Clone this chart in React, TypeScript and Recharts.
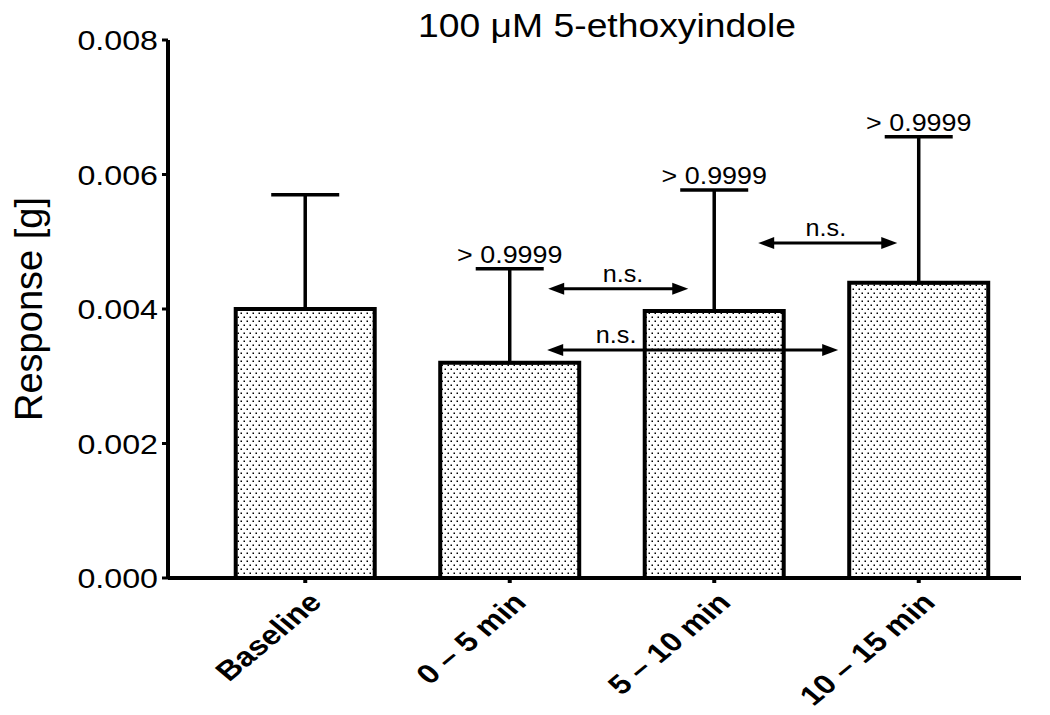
import React from "react";
import { BarChart, Bar, XAxis, YAxis, ErrorBar, ReferenceLine, ReferenceDot } from "recharts";

const categories = ["Baseline", "0 \u2013 5 min", "5 \u2013 10 min", "10 \u2013 15 min"];
const means = [0.004, 0.0032, 0.00397, 0.00439];
const sdUp = [0.0017, 0.0014, 0.0018, 0.00217];
const pLabels = ["", "> 0.9999", "> 0.9999", "> 0.9999"];
const yTicks = [0, 0.002, 0.004, 0.006, 0.008];

// n.s. comparison arrows, x in category units (0 = Baseline centre)
const arrowFrom = [1.188, 1.183, 2.215];
const arrowTo = [1.873, 2.606, 2.895];
const arrowY = [0.0043, 0.00339, 0.00498];
const arrowTextX = [1.554, 1.52, 2.546];
const arrowText = ["n.s.", "n.s.", "n.s."];

const data = categories.map((name, i) => ({ name, mean: means[i], err: [0, sdUp[i]] }));

const FONT = "'Liberation Sans', Arial, Helvetica, sans-serif";

function YTick({ x, y, payload }: any) {
  return (
    <text
      transform={`translate(${x - 2},${y}) scale(1.15,1)`}
      textAnchor="end"
      dy="0.36em"
      fontSize={28}
      fontFamily={FONT}
      fill="#000"
    >
      {Number(payload.value).toFixed(3)}
    </text>
  );
}

function XTick({ x, y, payload }: any) {
  return (
    <text
      transform={`translate(${x + 18},${y + 19}) scale(1.2,1) rotate(-45)`}
      textAnchor="end"
      fontSize={27}
      fontWeight="bold"
      fontFamily={FONT}
      fill="#000"
    >
      {payload.value}
    </text>
  );
}

function arrowShape(i: number) {
  return (p: any) => {
    const a = Math.floor(arrowFrom[i]);
    const b = Math.ceil(arrowTo[i]);
    const step = (p.x2 - p.x1) / (b - a);
    const x1 = p.x1 + (arrowFrom[i] - a) * step;
    const x2 = p.x1 + (arrowTo[i] - a) * step;
    const tx = p.x1 + (arrowTextX[i] - a) * step;
    const y = p.y1;
    const L = 16;
    const H = 6;
    return (
      <g>
        <line x1={x1 + L - 2} y1={y} x2={x2 - L + 2} y2={y} stroke="#000" strokeWidth={3} />
        <polygon points={`${x1},${y} ${x1 + L},${y - H} ${x1 + L},${y + H}`} fill="#000" />
        <polygon points={`${x2},${y} ${x2 - L},${y - H} ${x2 - L},${y + H}`} fill="#000" />
        <text
          transform={`translate(${tx},${y - 7}) scale(1.05,1)`}
          textAnchor="middle"
          fontSize={24}
          fontFamily={FONT}
          fill="#000"
        >
          {arrowText[i]}
        </text>
      </g>
    );
  };
}

function pShape(i: number) {
  return (p: any) => (
    <text
      transform={`translate(${p.cx},${p.cy - 6}) scale(1.12,1)`}
      textAnchor="middle"
      fontSize={24}
      fontFamily={FONT}
      fill="#000"
    >
      {pLabels[i]}
    </text>
  );
}

export default function App() {
  return (
    <div style={{ position: "relative", width: 1050, height: 715, background: "#fff" }}>
      <style>{"body{margin:0;background:#fff}"}</style>
      <svg width="0" height="0" style={{ position: "absolute" }}>
        <defs>
          <pattern id="dots" patternUnits="userSpaceOnUse" width="6" height="8">
            <rect width="6" height="8" fill="#fff" />
            <rect x="0.5" y="0.5" width="1.5" height="1.5" fill="#000" />
            <rect x="3.5" y="4.5" width="1.5" height="1.5" fill="#000" />
          </pattern>
        </defs>
      </svg>
      <svg width="1050" height="60" style={{ position: "absolute", left: 0, top: 0 }}>
        <text
          transform="translate(607,37) scale(1.13,1)"
          textAnchor="middle"
          fontSize={33}
          fontFamily={FONT}
          fill="#000"
        >
          100 {"\u03bc"}M 5-ethoxyindole
        </text>
      </svg>
      <BarChart
        width={1050}
        height={715}
        data={data}
        margin={{ top: 40, right: 29, bottom: 0, left: 0 }}
        barCategoryGap="16%"
      >
        <XAxis
          dataKey="name"
          padding={{ left: 35, right: 0 }}
          axisLine={{ stroke: "#000", strokeWidth: 4 }}
          tickLine={{ stroke: "#000", strokeWidth: 4 }}
          tickSize={5}
          tick={<XTick />}
          interval={0}
          height={137}
        />
        <YAxis
          width={168}
          domain={[0, 0.008]}
          ticks={yTicks}
          axisLine={{ stroke: "#000", strokeWidth: 4 }}
          tickLine={{ stroke: "#000", strokeWidth: 3 }}
          tickSize={6}
          tick={<YTick />}
          label={{
            content: ({ viewBox }: any) => (
              <text
                transform={`translate(42,${viewBox.y + viewBox.height / 2}) rotate(-90)`}
                textAnchor="middle"
                fontSize={38}
                fontFamily={FONT}
                fill="#000"
              >
                Response [g]
              </text>
            ),
          }}
        />
        <Bar dataKey="mean" fill="url(#dots)" stroke="#000" strokeWidth={4} isAnimationActive={false}>
          <ErrorBar dataKey="err" direction="y" width={34} stroke="#000" strokeWidth={3.5} />
        </Bar>
        {arrowFrom.map((f, i) => (
          <ReferenceLine
            key={"a" + i}
            segment={[
              { x: categories[Math.floor(f)], y: arrowY[i] },
              { x: categories[Math.ceil(arrowTo[i])], y: arrowY[i] },
            ]}
            shape={arrowShape(i)}
          />
        ))}
        {categories.map((c, i) =>
          pLabels[i] ? (
            <ReferenceDot key={"p" + i} x={c} y={means[i] + sdUp[i]} r={0} shape={pShape(i)} />
          ) : null
        )}
      </BarChart>
    </div>
  );
}
